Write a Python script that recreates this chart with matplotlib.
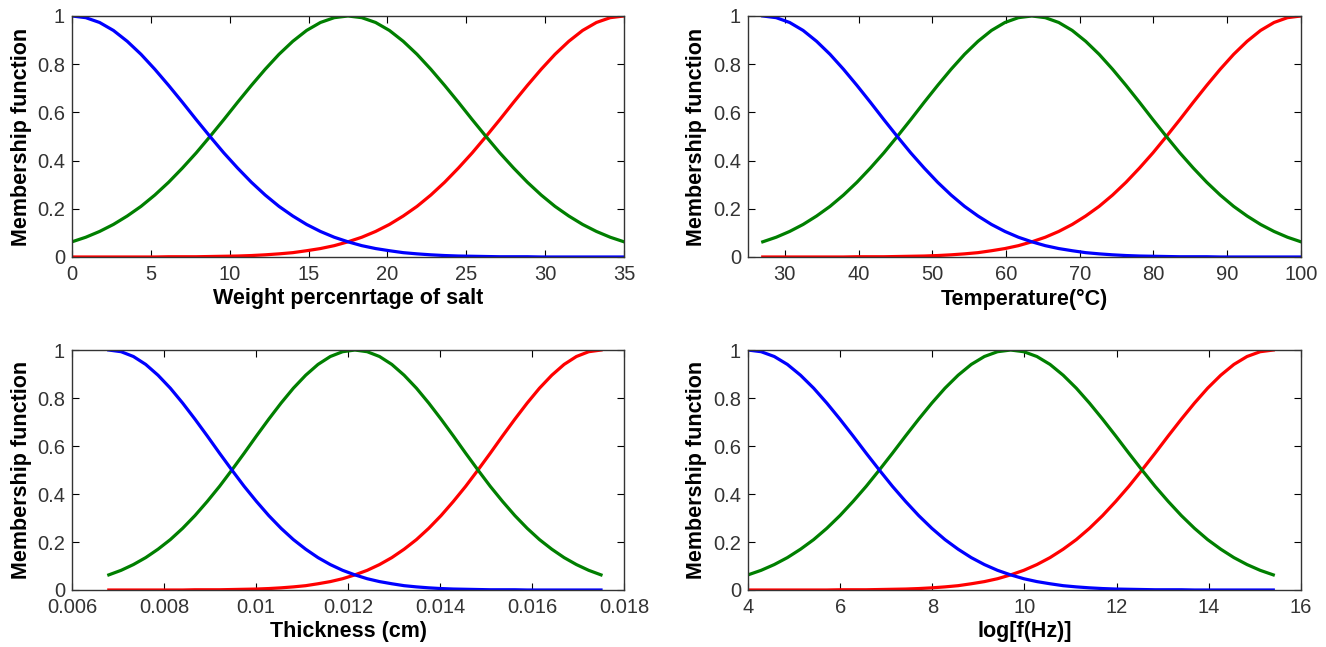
import numpy as np
import matplotlib
matplotlib.use('Agg')
import matplotlib.pyplot as plt
from matplotlib.ticker import FuncFormatter

plt.rcParams['font.family'] = ['Liberation Sans', 'DejaVu Sans']

# membership values, 41 samples across each input range
mf_low = [1.000, 0.993, 0.973, 0.940, 0.895, 0.841, 0.779, 0.712, 0.642, 0.570,
          0.500, 0.432, 0.369, 0.310, 0.257, 0.210, 0.170, 0.135, 0.106, 0.082,
          0.063, 0.047, 0.035, 0.026, 0.018, 0.013, 0.009, 0.006, 0.004, 0.003,
          0.002, 0.001, 0.001, 0.001, 0.000, 0.000, 0.000, 0.000, 0.000, 0.000,
          0.000]
mf_mid = [0.063, 0.082, 0.106, 0.135, 0.170, 0.210, 0.257, 0.310, 0.369, 0.432,
          0.500, 0.570, 0.642, 0.712, 0.779, 0.841, 0.895, 0.940, 0.973, 0.993,
          1.000, 0.993, 0.973, 0.940, 0.895, 0.841, 0.779, 0.712, 0.642, 0.570,
          0.500, 0.432, 0.369, 0.310, 0.257, 0.210, 0.170, 0.135, 0.106, 0.082,
          0.063]
mf_high = [0.000, 0.000, 0.000, 0.000, 0.000, 0.000, 0.000, 0.001, 0.001, 0.001,
           0.002, 0.003, 0.004, 0.006, 0.009, 0.013, 0.018, 0.026, 0.035, 0.047,
           0.063, 0.082, 0.106, 0.135, 0.170, 0.210, 0.257, 0.310, 0.369, 0.432,
           0.500, 0.570, 0.642, 0.712, 0.779, 0.841, 0.895, 0.940, 0.973, 0.993,
           1.000]

# input ranges (start, end of sampled curves)
salt_range = (0, 35)
temp_range = (27, 100)
thick_range = (0.0068, 0.0175)
logf_range = (4.0, 15.4)

xlabels = ['Weight percenrtage of salt', 'Temperature(°C)', 'Thickness (cm)', 'log[f(Hz)]']
xlims = [(0, 35), (25, 100), (0.006, 0.018), (4, 16)]
xticks = [[0, 5, 10, 15, 20, 25, 30, 35],
          [30, 40, 50, 60, 70, 80, 90, 100],
          [0.006, 0.008, 0.01, 0.012, 0.014, 0.016, 0.018],
          [4, 6, 8, 10, 12, 14, 16]]
ranges = [salt_range, temp_range, thick_range, logf_range]

fig = plt.figure(figsize=(13.26, 6.47), dpi=100)
boxes = [[0.0543, 0.6028, 0.4163, 0.3725],
         [0.5641, 0.6028, 0.4170, 0.3725],
         [0.0543, 0.0881, 0.4163, 0.3709],
         [0.5641, 0.0881, 0.4170, 0.3709]]

for i in range(4):
    ax = fig.add_axes(boxes[i])
    x = np.linspace(ranges[i][0], ranges[i][1], len(mf_low))
    ax.plot(x, mf_high, color='red', lw=2.3)
    ax.plot(x, mf_mid, color='#007f00', lw=2.3)
    ax.plot(x, mf_low, color='blue', lw=2.3)
    ax.set_xlim(xlims[i])
    ax.set_ylim(0, 1)
    ax.set_xticks(xticks[i])
    ax.set_yticks([0, 0.2, 0.4, 0.6, 0.8, 1])
    ax.xaxis.set_major_formatter(FuncFormatter(lambda v, p: f'{v:g}'))
    ax.yaxis.set_major_formatter(FuncFormatter(lambda v, p: f'{v:g}'))
    ax.tick_params(direction='in', top=True, right=True, length=5,
                   labelsize=14.5, labelcolor='#333333')
    ax.tick_params(axis='x', pad=6)
    ax.tick_params(axis='y', pad=5)
    for s in ax.spines.values():
        s.set_linewidth(1)
        s.set_color('#333333')
    ax.set_xlabel(xlabels[i], fontsize=15.5, fontweight='bold', labelpad=3)
    ax.set_ylabel('Membership function', fontsize=15.5, fontweight='bold', labelpad=4)

plt.savefig('out.png', dpi=100)
